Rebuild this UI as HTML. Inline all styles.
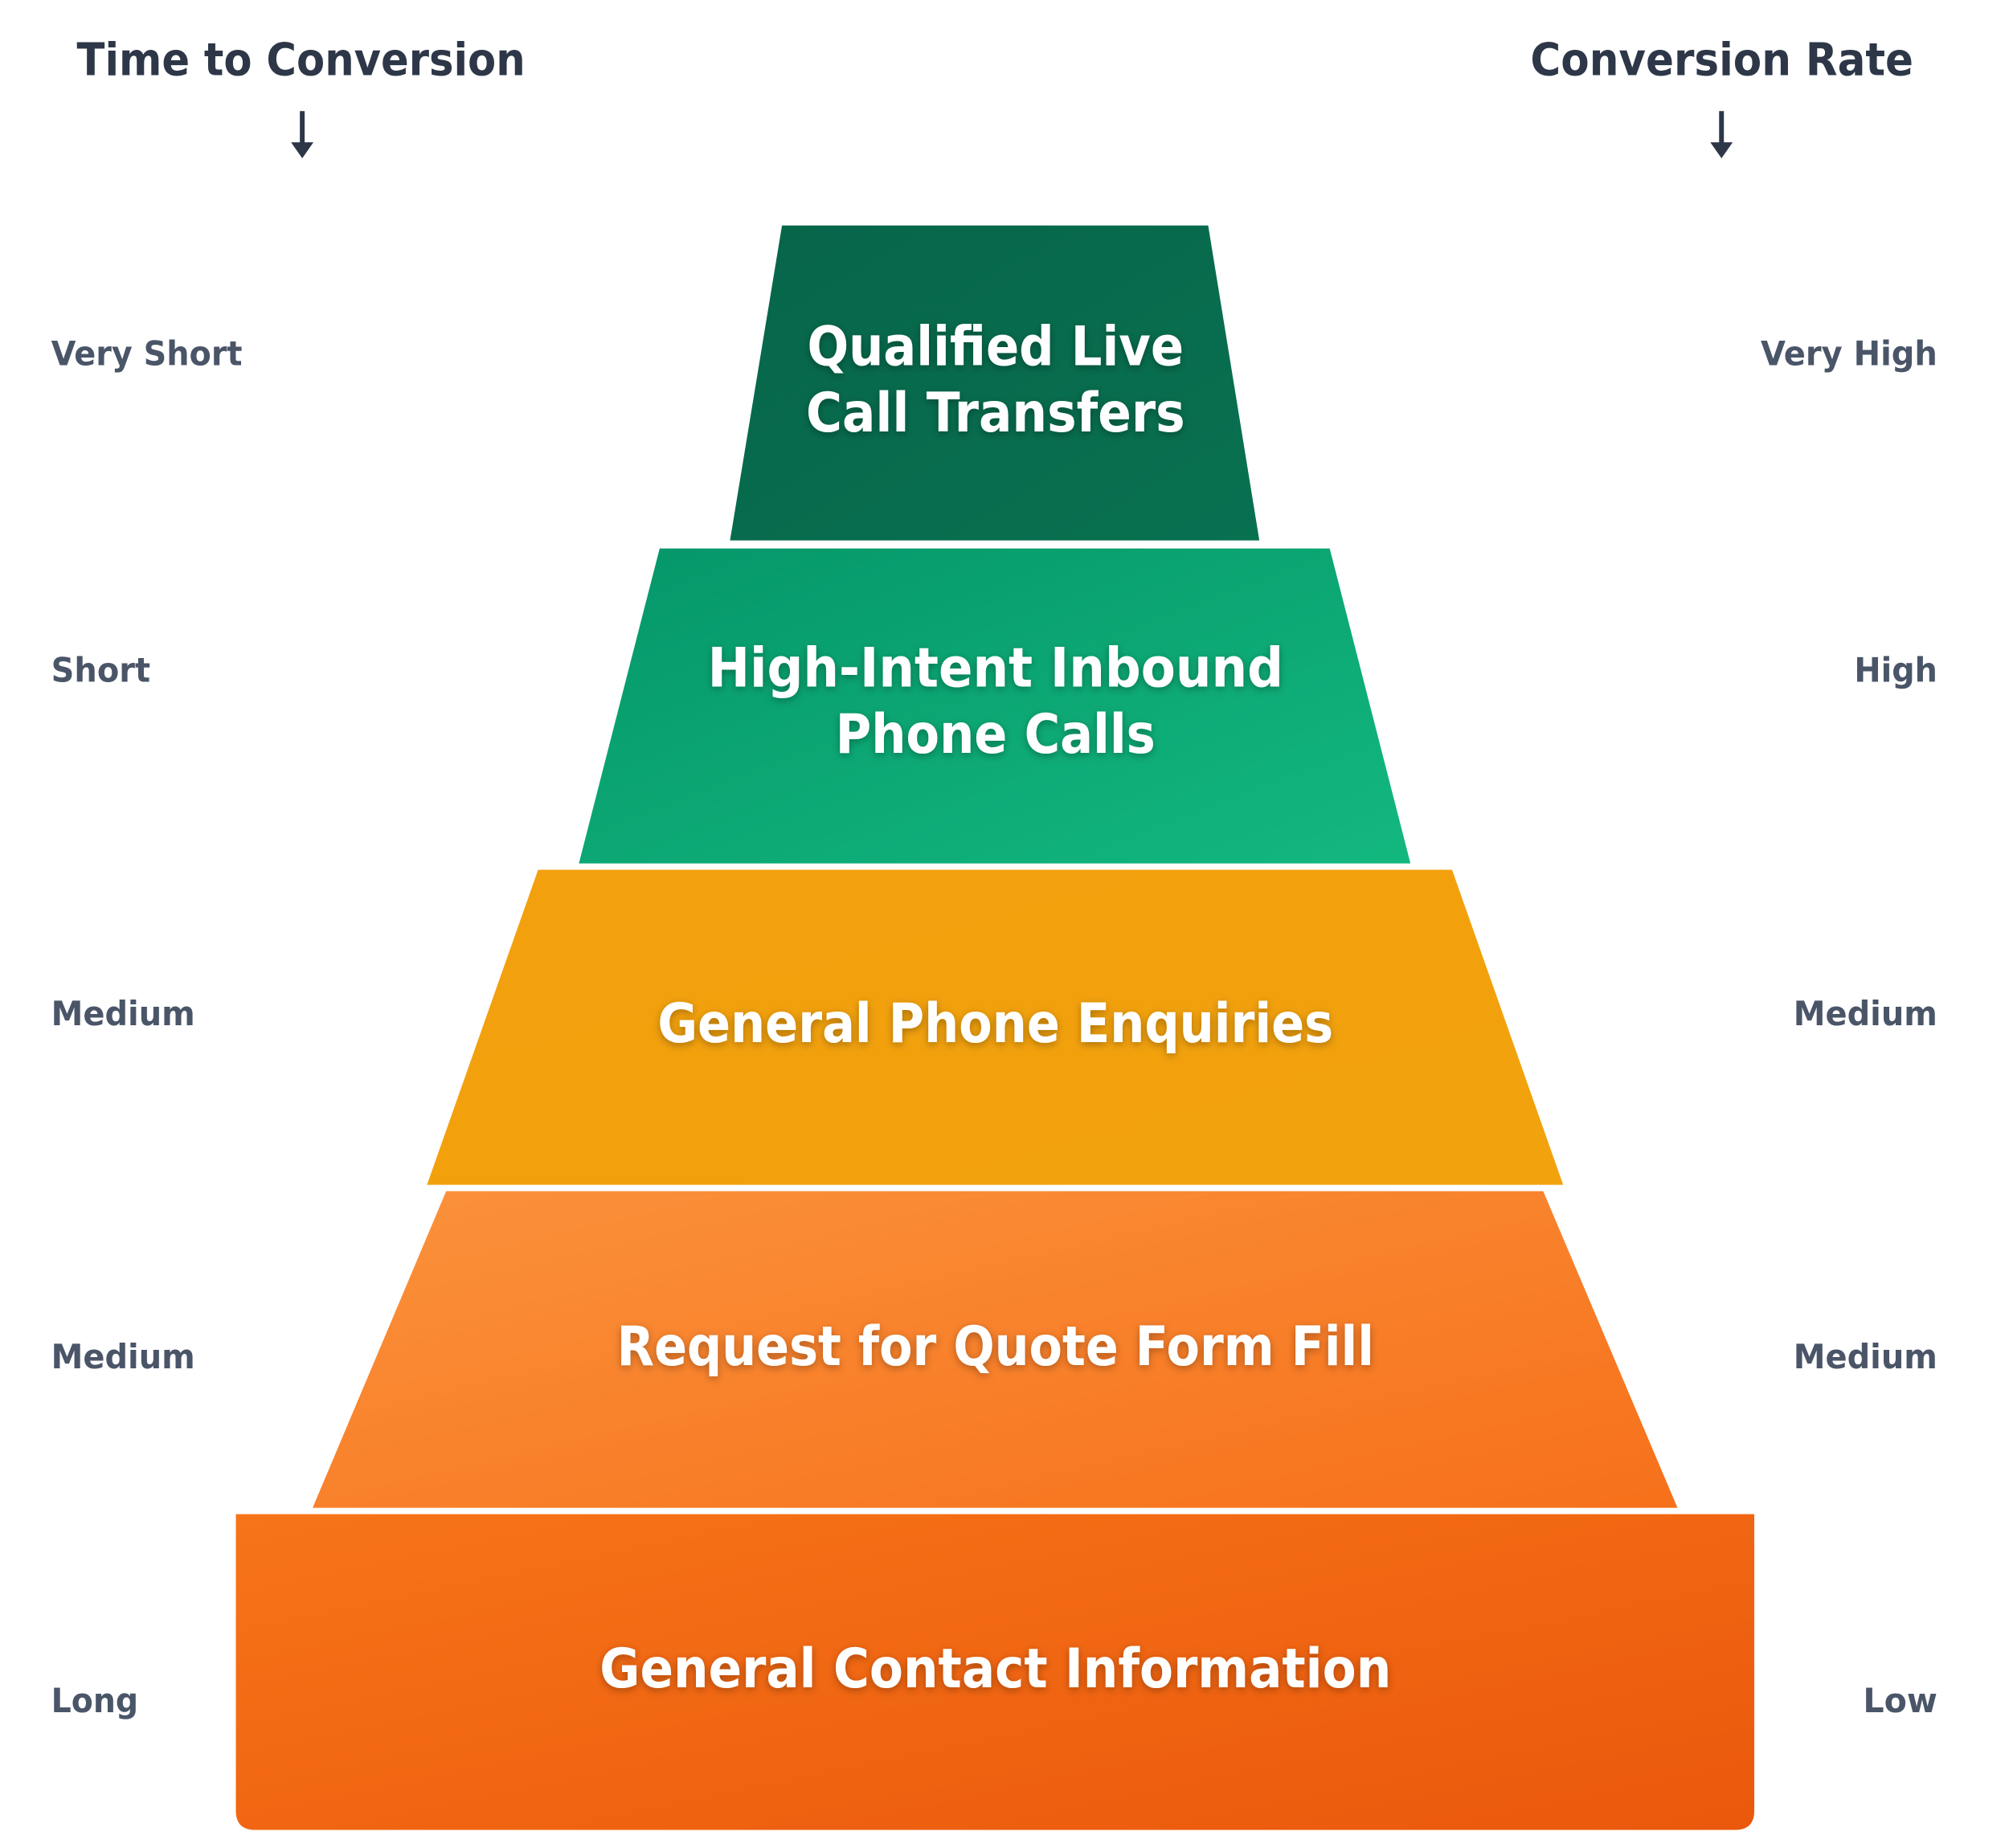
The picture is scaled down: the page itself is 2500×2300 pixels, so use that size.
<!DOCTYPE html>
<html><head><meta charset="utf-8">
<style>
html,body{margin:0;padding:0;background:#fff;}
svg{display:block;}
text{font-family:"DejaVu Sans","Liberation Sans",sans-serif;font-weight:bold;}
</style></head>
<body>
<svg width="2500" height="2300" viewBox="0 0 2500 2300" xmlns="http://www.w3.org/2000/svg">
<defs>
<linearGradient id="g1" x1="0" y1="0" x2="1" y2="1"><stop offset="0" stop-color="#07654a"/><stop offset="1" stop-color="#087150"/></linearGradient>
<linearGradient id="g2" x1="0" y1="0" x2="1" y2="1"><stop offset="0" stop-color="#059669"/><stop offset="1" stop-color="#13b87f"/></linearGradient>
<linearGradient id="g3" x1="0" y1="0" x2="1" y2="1"><stop offset="0" stop-color="#f2a00e"/><stop offset="1" stop-color="#f2a20c"/></linearGradient>
<linearGradient id="g4" x1="0" y1="0" x2="1" y2="1"><stop offset="0" stop-color="#fb923c"/><stop offset="1" stop-color="#f7701a"/></linearGradient>
<linearGradient id="g5" x1="0" y1="0" x2="1" y2="1"><stop offset="0" stop-color="#f77418"/><stop offset="1" stop-color="#ea580c"/></linearGradient>
<filter id="sh" x="-10%" y="-30%" width="120%" height="160%"><feDropShadow dx="0" dy="3" stdDeviation="5" flood-color="#000" flood-opacity="0.3"/></filter>
</defs>
<g transform="scale(0.995)">
<text x="96" y="94" font-size="56" fill="#2d3748" textLength="561" lengthAdjust="spacingAndGlyphs">Time to Conversion</text>
<text x="1914" y="94" font-size="56" fill="#2d3748" textLength="479" lengthAdjust="spacingAndGlyphs">Conversion Rate</text>
<g stroke="#2d3748" stroke-width="6" fill="none">
<line x1="378" y1="139" x2="378" y2="182"/>
<line x1="2153" y1="139" x2="2153" y2="182"/>
</g>
<g fill="#2d3748">
<polygon points="364,178 392,178 378,198"/>
<polygon points="2139,178 2167,178 2153,198"/>
</g>

<polygon points="978,282 1511,282 1575,676 913,676" fill="url(#g1)"/>
<polygon points="825,686 1663,686 1764,1080 724,1080" fill="url(#g2)"/>
<polygon points="673,1088 1816,1088 1955,1482 534,1482" fill="url(#g3)"/>
<polygon points="558,1490 1930,1490 2098,1886 391,1886" fill="url(#g4)"/>
<path d="M295,1894 H2194 V2265 Q2194,2289 2170,2289 H319 Q295,2289 295,2265 Z" fill="url(#g5)"/>

<g fill="#fff" font-size="68" text-anchor="middle" dominant-baseline="central" filter="url(#sh)">
<text x="1245" y="433" textLength="471" lengthAdjust="spacingAndGlyphs">Qualified Live</text>
<text x="1245" y="516" textLength="474" lengthAdjust="spacingAndGlyphs">Call Transfers</text>
<text x="1245" y="835" textLength="720" lengthAdjust="spacingAndGlyphs">High-Intent Inbound</text>
<text x="1245" y="918" textLength="400" lengthAdjust="spacingAndGlyphs">Phone Calls</text>
<text x="1245" y="1280" textLength="845" lengthAdjust="spacingAndGlyphs">General Phone Enquiries</text>
<text x="1245" y="1684" textLength="947" lengthAdjust="spacingAndGlyphs">Request for Quote Form Fill</text>
<text x="1245" y="2087" textLength="990" lengthAdjust="spacingAndGlyphs">General Contact Information</text>
</g>

<g fill="#4a5568" font-size="42" dominant-baseline="central">
<text x="64" y="442" textLength="239" lengthAdjust="spacingAndGlyphs">Very Short</text>
<text x="64" y="838" textLength="124" lengthAdjust="spacingAndGlyphs">Short</text>
<text x="64" y="1268" textLength="180" lengthAdjust="spacingAndGlyphs">Medium</text>
<text x="64" y="1697" textLength="180" lengthAdjust="spacingAndGlyphs">Medium</text>
<text x="64" y="2127" textLength="109" lengthAdjust="spacingAndGlyphs">Long</text>
</g>
<g fill="#4a5568" font-size="42" dominant-baseline="central" text-anchor="end">
<text x="2423" y="442" textLength="221" lengthAdjust="spacingAndGlyphs">Very High</text>
<text x="2423" y="838" textLength="104" lengthAdjust="spacingAndGlyphs">High</text>
<text x="2423" y="1268" textLength="180" lengthAdjust="spacingAndGlyphs">Medium</text>
<text x="2423" y="1697" textLength="180" lengthAdjust="spacingAndGlyphs">Medium</text>
<text x="2423" y="2127" textLength="93" lengthAdjust="spacingAndGlyphs">Low</text>
</g>
</g>
</svg>
</body></html>
